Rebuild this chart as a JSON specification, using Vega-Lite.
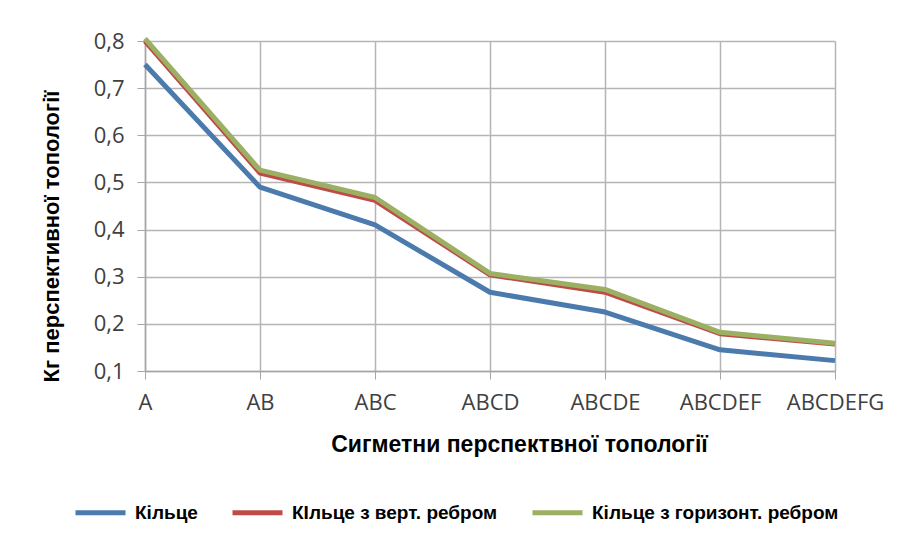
{
  "$schema": "https://vega.github.io/schema/vega-lite/v6.json",
  "width": 690,
  "height": 330,
  "autosize": {"type": "none"},
  "padding": {"left": 145, "top": 41, "right": 64, "bottom": 172},
  "background": "white",
  "config": {"view": {"stroke": null}},
  "data": {
    "values": [
      {"cat": "A", "series": "Кільце", "value": 0.75},
      {"cat": "AB", "series": "Кільце", "value": 0.49},
      {"cat": "ABC", "series": "Кільце", "value": 0.41},
      {"cat": "ABCD", "series": "Кільце", "value": 0.267},
      {"cat": "ABCDE", "series": "Кільце", "value": 0.225},
      {"cat": "ABCDEF", "series": "Кільце", "value": 0.145},
      {"cat": "ABCDEFG", "series": "Кільце", "value": 0.122},
      {"cat": "A", "series": "КІльце з верт. ребром", "value": 0.8},
      {"cat": "AB", "series": "КІльце з верт. ребром", "value": 0.52},
      {"cat": "ABC", "series": "КІльце з верт. ребром", "value": 0.462},
      {"cat": "ABCD", "series": "КІльце з верт. ребром", "value": 0.304},
      {"cat": "ABCDE", "series": "КІльце з верт. ребром", "value": 0.267},
      {"cat": "ABCDEF", "series": "КІльце з верт. ребром", "value": 0.179},
      {"cat": "ABCDEFG", "series": "КІльце з верт. ребром", "value": 0.157},
      {"cat": "A", "series": "Кільце з горизонт. ребром", "value": 0.805},
      {"cat": "AB", "series": "Кільце з горизонт. ребром", "value": 0.526},
      {"cat": "ABC", "series": "Кільце з горизонт. ребром", "value": 0.468},
      {"cat": "ABCD", "series": "Кільце з горизонт. ребром", "value": 0.307},
      {"cat": "ABCDE", "series": "Кільце з горизонт. ребром", "value": 0.273},
      {"cat": "ABCDEF", "series": "Кільце з горизонт. ребром", "value": 0.182},
      {"cat": "ABCDEFG", "series": "Кільце з горизонт. ребром", "value": 0.159}
    ]
  },
  "mark": {"type": "line", "strokeCap": "butt", "strokeJoin": "round"},
  "encoding": {
    "x": {
      "field": "cat",
      "type": "ordinal",
      "scale": {"type": "point", "padding": 0, "domain": ["A", "AB", "ABC", "ABCD", "ABCDE", "ABCDEF", "ABCDEFG"]},
      "axis": {
        "title": "Сигметни перспектвної топології",
        "labelAngle": 0,
        "labelFont": "Open Sans",
        "labelFontSize": 22,
        "labelColor": "#404040",
        "labelPadding": 13,
        "tickSize": 8,
        "tickColor": "#A6A6A6",
        "domainColor": "#A6A6A6",
        "domainWidth": 1.5,
        "grid": true,
        "gridColor": "#B5B5B5",
        "gridWidth": 1.5,
        "titleFont": "Liberation Sans",
        "titleFontWeight": "bold",
        "titleFontSize": 23,
        "titleColor": "#000000",
        "titleX": 374,
        "titleY": 73,
        "titleBaseline": "middle"
      }
    },
    "y": {
      "field": "value",
      "type": "quantitative",
      "scale": {"domain": [0.1, 0.8], "nice": false, "zero": false},
      "axis": {
        "values": [0.1, 0.2, 0.3, 0.4, 0.5, 0.6, 0.7, 0.8],
        "labelExpr": "replace(format(datum.value, '.1f'), '.', ',')",
        "labelFont": "Open Sans",
        "labelFontSize": 22,
        "labelColor": "#404040",
        "labelPadding": 13,
        "tickSize": 8,
        "tickColor": "#A6A6A6",
        "domainColor": "#A6A6A6",
        "domainWidth": 1.5,
        "grid": true,
        "gridColor": "#B5B5B5",
        "gridWidth": 1.5,
        "title": "Кг перспективної топології",
        "titleFont": "Liberation Sans",
        "titleFontWeight": "bold",
        "titleFontSize": 22,
        "titleColor": "#000000",
        "titleX": -94,
        "titleY": 195,
        "titleBaseline": "middle"
      }
    },
    "color": {
      "field": "series",
      "type": "nominal",
      "scale": {
        "domain": ["Кільце", "КІльце з верт. ребром", "Кільце з горизонт. ребром"],
        "range": ["#4B7BAC", "#BE4B48", "#9BB063"]
      },
      "legend": {
        "orient": "none",
        "direction": "horizontal",
        "legendX": -72,
        "legendY": 444,
        "title": null,
        "symbolType": "stroke",
        "symbolSize": 2500,
        "symbolStrokeWidth": 5,
        "labelFont": "Liberation Sans",
        "labelFontWeight": "bold",
        "labelFontSize": 19,
        "labelColor": "#000000",
        "labelOffset": 7,
        "labelLimit": 400,
        "columnPadding": 24
      }
    },
    "strokeWidth": {
      "field": "series",
      "type": "nominal",
      "scale": {
        "domain": ["Кільце", "КІльце з верт. ребром", "Кільце з горизонт. ребром"],
        "range": [5, 5, 6]
      },
      "legend": null
    }
  }
}
